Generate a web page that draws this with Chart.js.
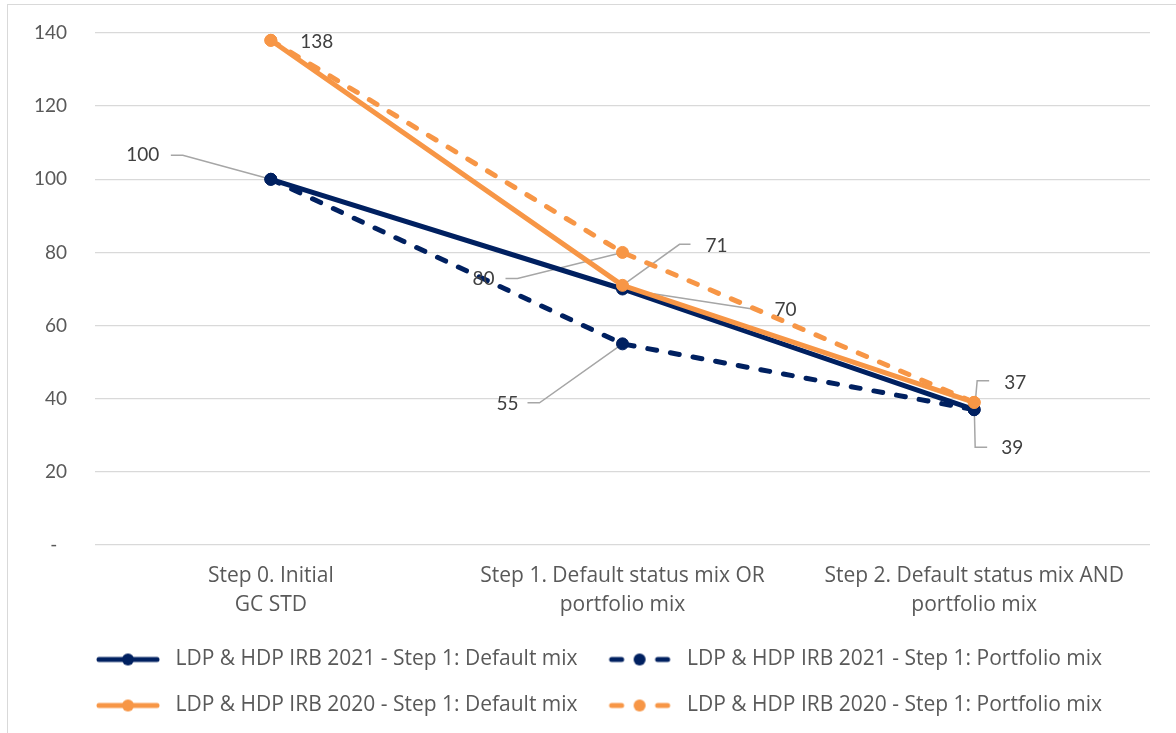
<!DOCTYPE html>
<html>
<head>
<meta charset="utf-8">
<script src="https://cdn.jsdelivr.net/npm/chart.js@4.4.1/dist/chart.umd.min.js"></script>
<style>
  html, body { margin: 0; padding: 0; background: #fff; overflow: hidden; }
  #wrap { position: relative; width: 1176px; height: 733px; }
  #frame { position: absolute; left: 7px; top: 4px; width: 1200px; height: 760px; border: 1px solid #d9d9d9; }
  #chart { position: absolute; left: 0; top: 0; }
</style>
</head>
<body>
<div id="wrap">
  <div id="frame"></div>
  <canvas id="chart" width="1176" height="733"></canvas>
</div>
<script>
// categories and values
const steps = [
    ['Step 0. Initial', 'GC STD'],
    ['Step 1. Default status mix OR', 'portfolio mix'],
    ['Step 2. Default status mix AND', 'portfolio mix']
];
const seriesNames = [
    'LDP & HDP IRB 2021 - Step 1: Default mix',
    'LDP & HDP IRB 2021 - Step 1: Portfolio mix',
    'LDP & HDP IRB 2020 - Step 1: Default mix',
    'LDP & HDP IRB 2020 - Step 1: Portfolio mix'
];
const irb2021Default = [100, 70, 37];
const irb2021Portfolio = [100, 55, 37];
const irb2020Default = [138, 71, 39];
const irb2020Portfolio = [138, 80, 39];
const yTicks = [0, 20, 40, 60, 80, 100, 120, 140];

const NAVY = '#002060';
const ORANGE = '#F79646';
const FONT = '"Open Sans", Lato, sans-serif';
const NUMFONT = 'Lato, "Open Sans", sans-serif';

// small line + marker picture used as legend symbol
function legendSymbol(color, dashed) {
    const c = document.createElement('canvas');
    c.width = 64; c.height = 14;
    const g = c.getContext('2d');
    g.strokeStyle = color;
    g.lineWidth = 5;
    g.lineCap = 'round';
    if (dashed) {
        g.beginPath(); g.moveTo(4, 7); g.lineTo(14, 7); g.stroke();
        g.beginPath(); g.moveTo(50, 7); g.lineTo(60, 7); g.stroke();
    } else {
        g.beginPath(); g.moveTo(3, 7); g.lineTo(61, 7); g.stroke();
    }
    g.fillStyle = color;
    g.beginPath(); g.arc(32, 7, 6, 0, Math.PI * 2); g.fill();
    return c;
}

function makeSet(label, data, color, dashed, order) {
    return {
        label: label,
        data: data,
        borderColor: color,
        backgroundColor: color,
        borderWidth: 5,
        borderDash: dashed ? [9, 14] : [],
        borderCapStyle: 'round',
        borderJoinStyle: 'round',
        pointRadius: 6,
        pointBorderWidth: 1,
        pointBackgroundColor: color,
        pointBorderColor: color,
        tension: 0,
        order: order,
        symbol: legendSymbol(color, dashed)
    };
}

// label placement: [dataset, point, text dx, text dy, leader path]
const labelSpots = [
    [2, 0, 46, 2, null],
    [0, 0, -128, -24, [[0, 0], [-88, -24], [-100, -24]]],
    [3, 1, -139, 26, [[0, 0], [-105, 26], [-117, 26]]],
    [2, 1, 94, -39, [[0, 0], [57, -41], [68, -41]]],
    [0, 1, 163, 21, [[0, 0], [130, 20], [138, 21]]],
    [1, 1, -115, 60, [[0, 0], [-83, 59], [-95, 59]]],
    [0, 2, 41, -27, [[1, -6], [3, -29], [15, -29]]],
    [2, 2, 38, 46, [[0, 0], [1, 45], [13, 45]]]
];

const pointLabels = {
    id: 'pointLabels',
    beforeDatasetsDraw(chart) {
        const ctx = chart.ctx;
        ctx.save();
        ctx.strokeStyle = '#A6A6A6';
        ctx.lineWidth = 1.5;
        labelSpots.forEach(s => {
            if (!s[4]) return;
            const pt = chart.getDatasetMeta(s[0]).data[s[1]];
            ctx.beginPath();
            s[4].forEach((p, i) => {
                if (i === 0) ctx.moveTo(pt.x + p[0], pt.y + p[1]);
                else ctx.lineTo(pt.x + p[0], pt.y + p[1]);
            });
            ctx.stroke();
        });
        ctx.restore();
    },
    afterDatasetsDraw(chart) {
        const ctx = chart.ctx;
        ctx.save();
        ctx.font = '19px ' + NUMFONT;
        ctx.fillStyle = '#404040';
        ctx.textAlign = 'center';
        ctx.textBaseline = 'middle';
        labelSpots.forEach(s => {
            const pt = chart.getDatasetMeta(s[0]).data[s[1]];
            const v = chart.data.datasets[s[0]].data[s[1]];
            ctx.fillText(String(v), pt.x + s[2], pt.y + s[3]);
        });
        ctx.restore();
    }
};

// nudge the legend right so its rows sit where the reference has them
const legendShift = {
    id: 'legendShift',
    afterLayout(chart) {
        chart.legend.left = 17;
        chart.legend.right = 1176;
    }
};

const ctx = document.getElementById('chart').getContext('2d');
new Chart(ctx, {
    type: 'line',
    data: {
        labels: steps,
        datasets: [
            makeSet(seriesNames[0], irb2021Default, NAVY, false, 4),
            makeSet(seriesNames[1], irb2021Portfolio, NAVY, true, 3),
            makeSet(seriesNames[2], irb2020Default, ORANGE, false, 2),
            makeSet(seriesNames[3], irb2020Portfolio, ORANGE, true, 1)
        ]
    },
    options: {
        responsive: false,
        animation: false,
        layout: { padding: { left: 17, right: 26, top: 33, bottom: 7 } },
        plugins: {
            tooltip: { enabled: false },
            legend: {
                position: 'bottom',
                labels: {
                    usePointStyle: true,
                    pointStyleWidth: 74,
                    padding: 25,
                    color: '#595959',
                    font: { family: FONT, size: 21 },
                    generateLabels(chart) {
                        return chart.data.datasets.map((ds, i) => ({
                            text: ds.label,
                            pointStyle: ds.symbol,
                            fillStyle: ds.borderColor,
                            strokeStyle: ds.borderColor,
                            lineWidth: 0,
                            fontColor: '#595959',
                            hidden: false,
                            datasetIndex: i
                        }));
                    }
                }
            }
        },
        scales: {
            x: {
                offset: true,
                grid: { display: false },
                border: { display: false },
                ticks: {
                    color: '#595959',
                    font: { family: FONT, size: 21, lineHeight: 1.38 },
                    padding: 9,
                    maxRotation: 0,
                    autoSkip: false
                },
                afterFit(scale) { scale.height = 79; }
            },
            y: {
                min: 0,
                max: 140,
                afterBuildTicks(scale) { scale.ticks = yTicks.map(v => ({ value: v })); },
                grid: { color: '#D9D9D9', lineWidth: 1.3, drawTicks: true, tickLength: 28, tickColor: 'rgba(0,0,0,0)' },
                border: { display: false },
                ticks: {
                    color: '#595959',
                    font: { family: NUMFONT, size: 19 },
                    padding: 0,
                    callback: v => v === 0 ? '-  ' : v
                },
                afterFit(scale) { scale.width = 78; }
            }
        }
    },
    plugins: [pointLabels, legendShift]
});
</script>
</body>
</html>
